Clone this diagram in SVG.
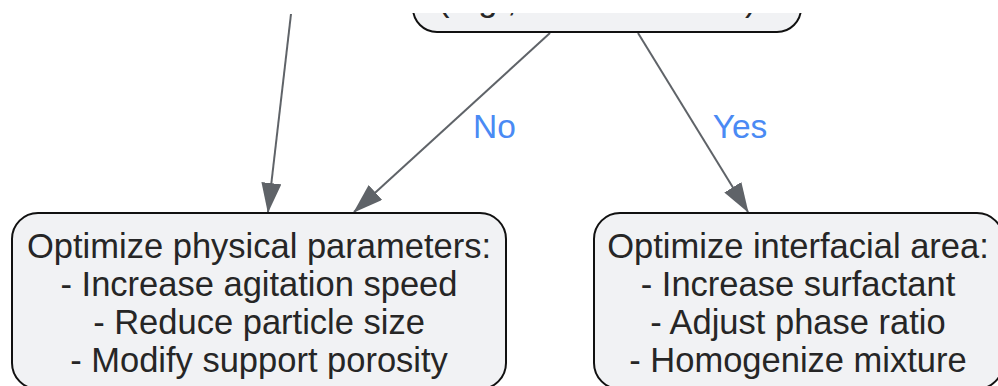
<svg xmlns="http://www.w3.org/2000/svg" width="998" height="386" viewBox="0 0 998 386">
  <defs>
    <marker id="arrow" markerUnits="userSpaceOnUse" markerWidth="30" markerHeight="20" viewBox="0 0 30 20" refX="29" refY="10" orient="auto">
      <path d="M0,0 L30,10 L0,20 z" fill="#5f6368"/>
    </marker>
  </defs>
  <style>
    .node rect { fill: #f1f2f4; stroke: #111; stroke-width: 2; }
    .node text { font-family: "Liberation Sans", Arial, sans-serif; font-size: 34.5px; fill: #262626; text-anchor: middle; }
    .edge { stroke: #5f6368; stroke-width: 2; fill: none; marker-end: url(#arrow); }
    .elabel { font-family: "Liberation Sans", Arial, sans-serif; font-size: 33.5px; fill: #4a8af4; text-anchor: middle; }
  </style>
  <rect x="0" y="0" width="998" height="386" fill="#ffffff"/>

  <g id="connectors">
    <line class="edge" x1="291" y1="14" x2="268" y2="212"/>
    <line class="edge" x1="550" y1="33" x2="354" y2="212"/>
    <line class="edge" x1="638" y1="33" x2="748" y2="212"/>
    <text class="elabel" x="494.5" y="138">No</text>
    <text class="elabel" x="740" y="138">Yes</text>
  </g>

  <g id="node-top" class="node">
    <rect x="413" y="-40" width="388" height="72" rx="24"/>
    <text x="438" y="11" style="text-anchor:start">(e.g.,</text>
    <text x="745" y="11" style="text-anchor:start">)</text>
  </g>

  <g id="node-physical" class="node">
    <rect x="12" y="213" width="494" height="176" rx="26"/>
    <text x="259" y="258">Optimize physical parameters:</text>
    <text x="259" y="296">- Increase agitation speed</text>
    <text x="259" y="334">- Reduce particle size</text>
    <text x="259" y="372">- Modify support porosity</text>
  </g>

  <g id="node-interfacial" class="node">
    <rect x="594" y="213" width="409" height="176" rx="26"/>
    <text x="798" y="258">Optimize interfacial area:</text>
    <text x="798" y="296">- Increase surfactant</text>
    <text x="798" y="334">- Adjust phase ratio</text>
    <text x="798" y="372">- Homogenize mixture</text>
  </g>

  <rect x="0" y="0" width="998" height="13" fill="#ffffff"/>
</svg>
